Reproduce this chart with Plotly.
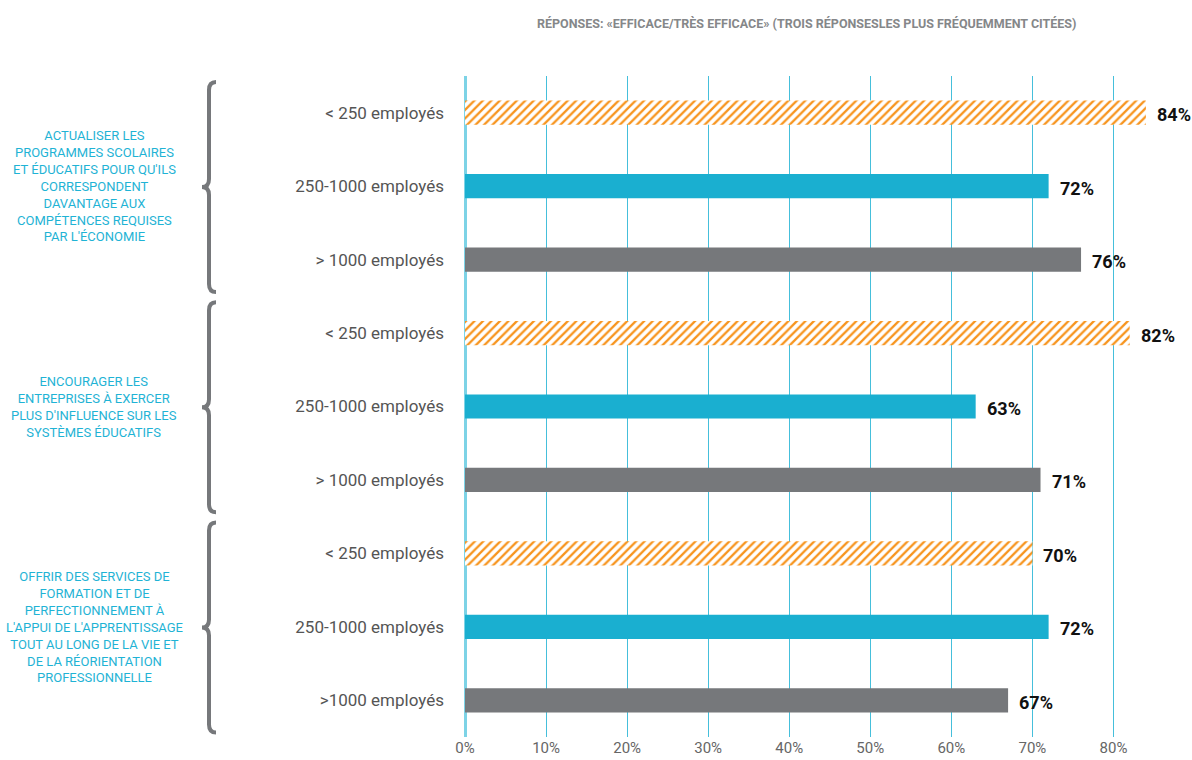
import plotly.graph_objects as go

# ---- data ----
groups = [
    "ACTUALISER LES<br>PROGRAMMES SCOLAIRES<br>ET ÉDUCATIFS POUR QU'ILS<br>CORRESPONDENT<br>DAVANTAGE AUX<br>COMPÉTENCES REQUISES<br>PAR L'ÉCONOMIE",
    "ENCOURAGER LES<br>ENTREPRISES À EXERCER<br>PLUS D'INFLUENCE SUR LES<br>SYSTÈMES ÉDUCATIFS",
    "OFFRIR DES SERVICES DE<br>FORMATION ET DE<br>PERFECTIONNEMENT À<br>L'APPUI DE L'APPRENTISSAGE<br>TOUT AU LONG DE LA VIE ET<br>DE LA RÉORIENTATION<br>PROFESSIONNELLE",
]
row_labels = [
    "< 250 employés", "250-1000 employés", "> 1000 employés",
    "< 250 employés", "250-1000 employés", "> 1000 employés",
    "< 250 employés", "250-1000 employés", ">1000 employés",
]
small_vals = [84, 82, 70]    # < 250 employés
medium_vals = [72, 63, 72]   # 250-1000 employés
large_vals = [76, 71, 67]    # > 1000 employés
x_ticks = [0, 10, 20, 30, 40, 50, 60, 70, 80]
title_text = "RÉPONSES: «EFFICACE/TRÈS EFFICACE» (TROIS RÉPONSESLES PLUS FRÉQUEMMENT CITÉES)"

ORANGE = "#f7941d"
BLUE = "#1aafd0"
GRAY = "#76787b"
CYAN_TXT = "#1fb3d5"
FONT = "Roboto, sans-serif"

n_groups = len(groups)
y_small = [3 * g + 0 for g in range(n_groups)]
y_med = [3 * g + 1 for g in range(n_groups)]
y_large = [3 * g + 2 for g in range(n_groups)]

fig = go.Figure()
common = dict(orientation="h", width=0.33, cliponaxis=False, hoverinfo="skip")

fig.add_trace(go.Bar(x=small_vals, y=y_small, name="< 250",
                     marker=dict(color="white", line=dict(width=0),
                                 pattern=dict(shape="/", fgcolor=ORANGE, bgcolor="white",
                                              fgopacity=1, size=6, solidity=0.38)),
                     **common))
fig.add_trace(go.Bar(x=medium_vals, y=y_med, name="250-1000",
                     marker=dict(color=BLUE, line=dict(width=0)), **common))
fig.add_trace(go.Bar(x=large_vals, y=y_large, name="> 1000",
                     marker=dict(color=GRAY, line=dict(width=0)), **common))

# ---- layout geometry (body margin removed via post_script) ----
W, H = 1192, 760
L, R_px = 465, 1154
T, B = 76, 737
plot_w = R_px - L
px_per_row = (B - T) / 9


def px_x(px):
    return (px - L) / plot_w


shapes = []
annotations = []
for g in range(n_groups):
    top = 3 * g - 0.42
    bot = 3 * g + 2 + 0.44
    mid = (top + bot) / 2
    d = 8 / px_per_row
    xr, xv, xl = px_x(216), px_x(209), px_x(202)
    path = (f"M {xr},{top} Q {xv},{top} {xv},{top + d} "
            f"L {xv},{mid - d} Q {xv},{mid} {xl},{mid} "
            f"Q {xv},{mid} {xv},{mid + d} "
            f"L {xv},{bot - d} Q {xv},{bot} {xr},{bot}")
    shapes.append(dict(type="path", path=path, xref="paper", yref="y",
                       line=dict(color=GRAY, width=4)))
    annotations.append(dict(text=groups[g], x=px_x(94), y=3 * g + 1, xref="paper", yref="y",
                            showarrow=False, xanchor="center", yanchor="middle", align="center",
                            font=dict(family=FONT, size=13, color=CYAN_TXT)))

# value labels next to bar ends
for vals, ys in ((small_vals, y_small), (medium_vals, y_med), (large_vals, y_large)):
    for v, yy in zip(vals, ys):
        annotations.append(dict(text=f"<b>{v}%</b>", x=v, y=yy, xref="x", yref="y",
                                showarrow=False, xanchor="left", yanchor="middle",
                                xshift=9, yshift=-2,
                                font=dict(family=FONT, size=18, color="#111111")))

annotations.append(dict(text=f"<b>{title_text}</b>", x=px_x(806),
                        y=1 + (T - 23) / (B - T), xref="paper", yref="paper",
                        showarrow=False, xanchor="center", yanchor="middle",
                        font=dict(family=FONT, size=12.5, color="#858789")))

fig.update_layout(
    width=W, height=H,
    margin=dict(l=L, r=W - R_px, t=T, b=H - B, autoexpand=False),
    plot_bgcolor="white", paper_bgcolor="white",
    showlegend=False, barmode="overlay",
    shapes=shapes, annotations=annotations,
    xaxis=dict(range=[0, 85], tickvals=x_ticks, ticktext=[f"{v}%" for v in x_ticks],
               showgrid=True, gridcolor="#45bfdb", gridwidth=1.2,
               zeroline=True, zerolinecolor="#7dd3e6", zerolinewidth=3,
               showline=False, tickfont=dict(family="Roboto", size=15, color="#666666"),
               ticks="", automargin=False, fixedrange=True),
    yaxis=dict(range=[8.5, -0.5], tickvals=list(range(len(row_labels))), ticktext=row_labels,
               showgrid=False, zeroline=False, showline=False, ticks="",
               ticklabelstandoff=20, automargin=False,
               tickfont=dict(family="Roboto", size=17, color="#555555"), fixedrange=True),
)

fig.write_html("out.html", config={"displayModeBar": False},
               post_script="document.body.style.margin='0px';document.body.style.overflow='hidden';")
